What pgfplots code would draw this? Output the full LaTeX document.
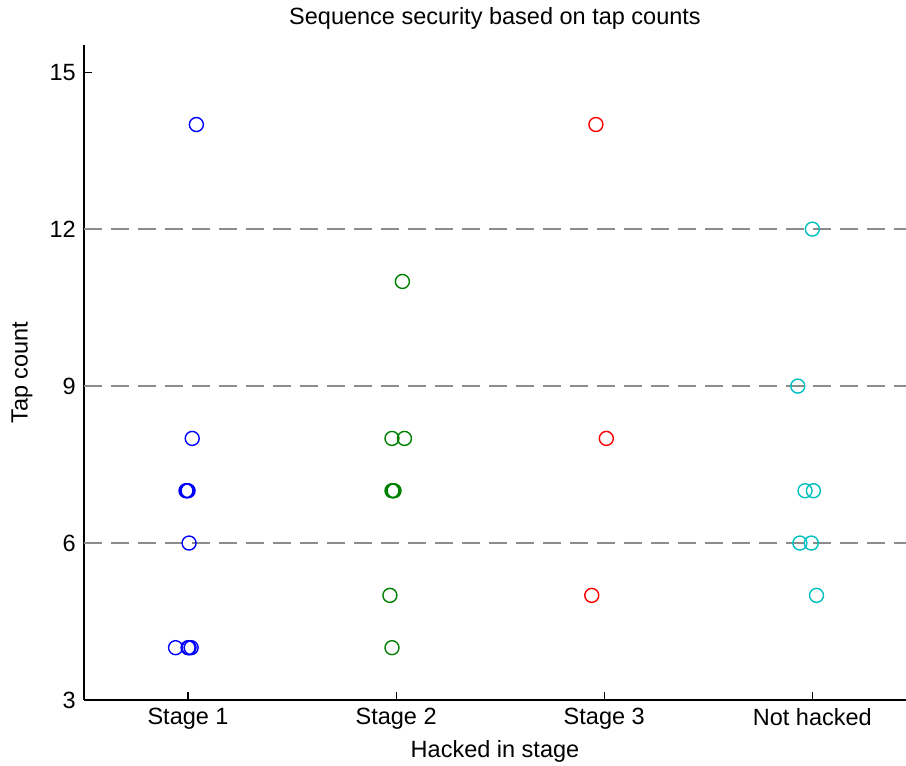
\documentclass[border=0pt]{standalone}
\usepackage{pgfplots}
\pgfplotsset{compat=1.18}
\usepackage{fontspec}
\setmainfont{Liberation Sans}
\definecolor{mblue}{RGB}{0,0,255}
\definecolor{mgreen}{RGB}{0,128,0}
\definecolor{mred}{RGB}{255,0,0}
\definecolor{mcyan}{RGB}{0,191,191}
\definecolor{mgray}{RGB}{140,140,140}
\begin{document}
\begin{tikzpicture}
\begin{axis}[
  scale only axis, width=822pt, height=655pt,
  at={(0,0)}, anchor=south west,
  xmin=0.5, xmax=4.45, ymin=3, ymax=15.52,
  axis x line*=bottom, axis y line*=left,
  axis line style={black, line width=1.3pt, -},
  xtick={1,2,3,4}, xticklabels={Stage 1, Stage 2, Stage 3, Not hacked},
  ytick={3,6,9,12,15},
  tick align=inside, major tick length=8pt,
  tick style={black, line width=1.2pt},
  font=\fontsize{23.5}{27}\selectfont,
  /pgf/number format/assume math mode=true,
  yticklabel style={inner sep=0pt, xshift=-8pt},
  xticklabel style={inner sep=0pt, yshift=-8pt},
  every axis title shift=0pt,
  title={Sequence security based on tap counts},
  title style={at={(axis description cs:0.5,1.0412)}, anchor=center, inner sep=0pt},
  xlabel={Hacked in stage},
  xlabel style={at={(axis description cs:0.5,-0.0785)}, anchor=center, inner sep=0pt},
  ylabel={Tap count},
  ylabel style={at={(axis description cs:-0.0755,0.5)}, anchor=center, inner sep=0pt},
  clip=false,
]
\addplot[mgray, line width=2pt, dash pattern=on 18pt off 9pt] coordinates {(0.5,6) (4.45,6)};
\addplot[mgray, line width=2pt, dash pattern=on 18pt off 9pt] coordinates {(0.5,9) (4.45,9)};
\addplot[mgray, line width=2pt, dash pattern=on 18pt off 9pt] coordinates {(0.5,12) (4.45,12)};
\addplot[only marks, mark=o, mark size=7pt, mblue, mark options={line width=1.4pt}] coordinates {
(1.04,14) (1.02,8) (0.99,7) (0.995,7) (1.0,7) (1.005,6)
(0.94,4) (1.0,4) (1.005,4) (1.015,4)};
\addplot[only marks, mark=o, mark size=7pt, mgreen, mark options={line width=1.4pt}] coordinates {
(2.03,11) (1.98,8) (2.04,8) (1.98,7) (1.985,7) (1.99,7) (1.97,5) (1.98,4)};
\addplot[only marks, mark=o, mark size=7pt, mred, mark options={line width=1.4pt}] coordinates {
(2.96,14) (3.01,8) (2.94,5)};
\addplot[only marks, mark=o, mark size=7pt, mcyan, mark options={line width=1.4pt}] coordinates {
(4.0,12) (3.93,9) (3.965,7) (4.005,7) (3.94,6) (3.995,6) (4.02,5)};
\end{axis}
\pgfresetboundingbox
\path[use as bounding box] (-84pt,-66pt) rectangle (822pt,700pt);
\end{tikzpicture}
\end{document}
